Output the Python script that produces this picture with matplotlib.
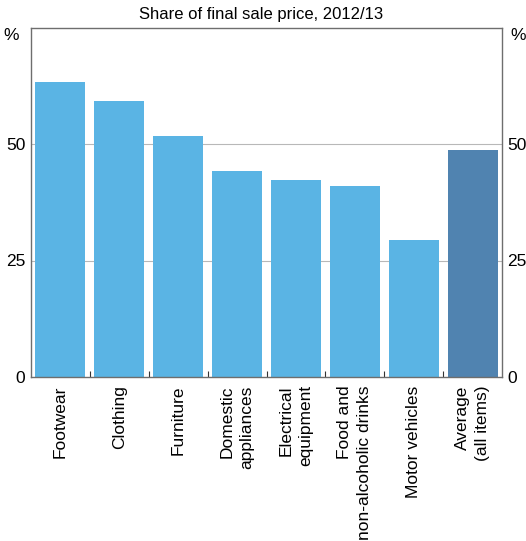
import matplotlib
matplotlib.use("Agg")
import matplotlib.pyplot as plt
import numpy as np

plt.rcParams['font.family'] = ['Liberation Sans', 'DejaVu Sans']

# Data
categories = ['Footwear', 'Clothing', 'Furniture', 'Domestic\nappliances',
              'Electrical\nequipment', 'Food and\nnon-alcoholic drinks',
              'Motor vehicles', 'Average\n(all items)']
margins = [63.4, 59.3, 51.7, 44.2, 42.3, 40.9, 29.4, 48.7]
yticks = [0, 25, 50]
subtitle = 'Share of final sale price, 2012/13'

light_blue = '#5AB4E4'
dark_blue = '#5083B0'
colors = [light_blue] * (len(categories) - 1) + [dark_blue]

fig = plt.figure(figsize=(5.26, 5.41), dpi=100)
ax = fig.add_axes([31 / 526, 1 - 377 / 541, 471 / 526, 349.5 / 541])

x = np.arange(len(categories))
ax.bar(x, margins, width=0.85, color=colors, zorder=2)

ax.set_xlim(-0.5, len(categories) - 0.5)
ax.set_ylim(0, 75)

# horizontal gridlines
for yv in yticks[1:]:
    ax.axhline(yv, color='#b8b8b8', lw=0.8, zorder=1)

for sp in ax.spines.values():
    sp.set_color('#6e6e6e')
    sp.set_linewidth(1.0)

ax.set_yticks(yticks)
ax.tick_params(axis='y', length=0, labelsize=12.5, pad=4,
               labelleft=True, labelright=True)

# category boundaries as inward ticks
ax.set_xticks(x[:-1] + 0.5, minor=True)
ax.tick_params(axis='x', which='minor', direction='in', length=4,
               color='#333333', width=0.8)
ax.set_xticks(x)
ax.tick_params(axis='x', which='major', length=0, pad=6)
ax.set_xticklabels(categories, rotation=90, fontsize=12.5, va='top',
                   ha='center', multialignment='right', linespacing=1.4)

# unit labels
ax.text(-0.025, 0.978, '%', transform=ax.transAxes, ha='right', va='center',
        fontsize=12.5)
ax.text(1.017, 0.978, '%', transform=ax.transAxes, ha='left', va='center',
        fontsize=12.5)

fig.text(0.497, 1 - 14 / 541, subtitle, ha='center', va='center', fontsize=12)

plt.savefig('out.png', dpi=100)
